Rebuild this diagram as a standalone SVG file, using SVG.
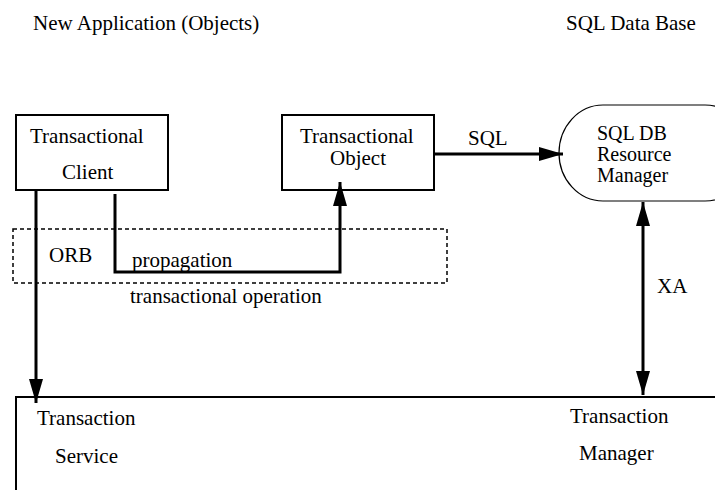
<svg xmlns="http://www.w3.org/2000/svg" width="715" height="490" viewBox="0 0 715 490">
<style>
text{font-family:'Liberation Serif','Times New Roman',Times,'DejaVu Serif',serif;font-size:21px;fill:#000}
.rmt{font-size:20px}
.box{fill:#fff;stroke:#000;stroke-width:2}
.conn{fill:none;stroke:#000;stroke-width:3}
</style>
<defs>
<marker id="ah" markerUnits="userSpaceOnUse" markerWidth="26" markerHeight="16" refX="24" refY="7" orient="auto-start-reverse">
<polygon points="0,0 24,7 0,14" fill="#000"/>
</marker>
</defs>
<rect width="715" height="490" fill="#fff"/>
<g id="titles">
<text x="33" y="30">New Application (Objects)</text>
<text x="566" y="30">SQL Data Base</text>
</g>
<g id="orb">
<rect x="13" y="229" width="434" height="54" fill="none" stroke="#000" stroke-width="1.5" stroke-dasharray="4,3"/>
<text x="49" y="262">ORB</text>
</g>
<g id="client">
<rect class="box" x="16" y="115" width="152" height="75"/>
<text x="30" y="143">Transactional</text>
<text x="62" y="179">Client</text>
</g>
<g id="object">
<rect class="box" x="282" y="115" width="152" height="75"/>
<text x="300" y="143">Transactional</text>
<text x="330" y="165">Object</text>
</g>
<g id="rm">
<rect x="559" y="105" width="190" height="96" rx="44" ry="48" fill="#fff" stroke="#000" stroke-width="1.2"/>
<text class="rmt" x="597" y="140">SQL DB</text>
<text class="rmt" x="597" y="161">Resource</text>
<text class="rmt" x="597" y="182">Manager</text>
</g>
<g id="service">
<path d="M16,490 V397 H715" fill="none" stroke="#000" stroke-width="2"/>
<text x="37" y="425">Transaction</text>
<text x="55" y="463">Service</text>
<text x="570" y="423">Transaction</text>
<text x="579" y="460">Manager</text>
</g>
<g id="connectors">
<path class="conn" d="M36,190 V403" marker-end="url(#ah)"/>
<path class="conn" d="M115,194 V272 H340 V182" marker-end="url(#ah)"/>
<text x="132" y="267">propagation</text>
<text x="130" y="303">transactional operation</text>
<path class="conn" d="M434,154 H563" marker-end="url(#ah)"/>
<text x="468" y="145">SQL</text>
<path class="conn" d="M643,202 V395" marker-start="url(#ah)" marker-end="url(#ah)"/>
<text x="657" y="293">XA</text>
</g>
</svg>
